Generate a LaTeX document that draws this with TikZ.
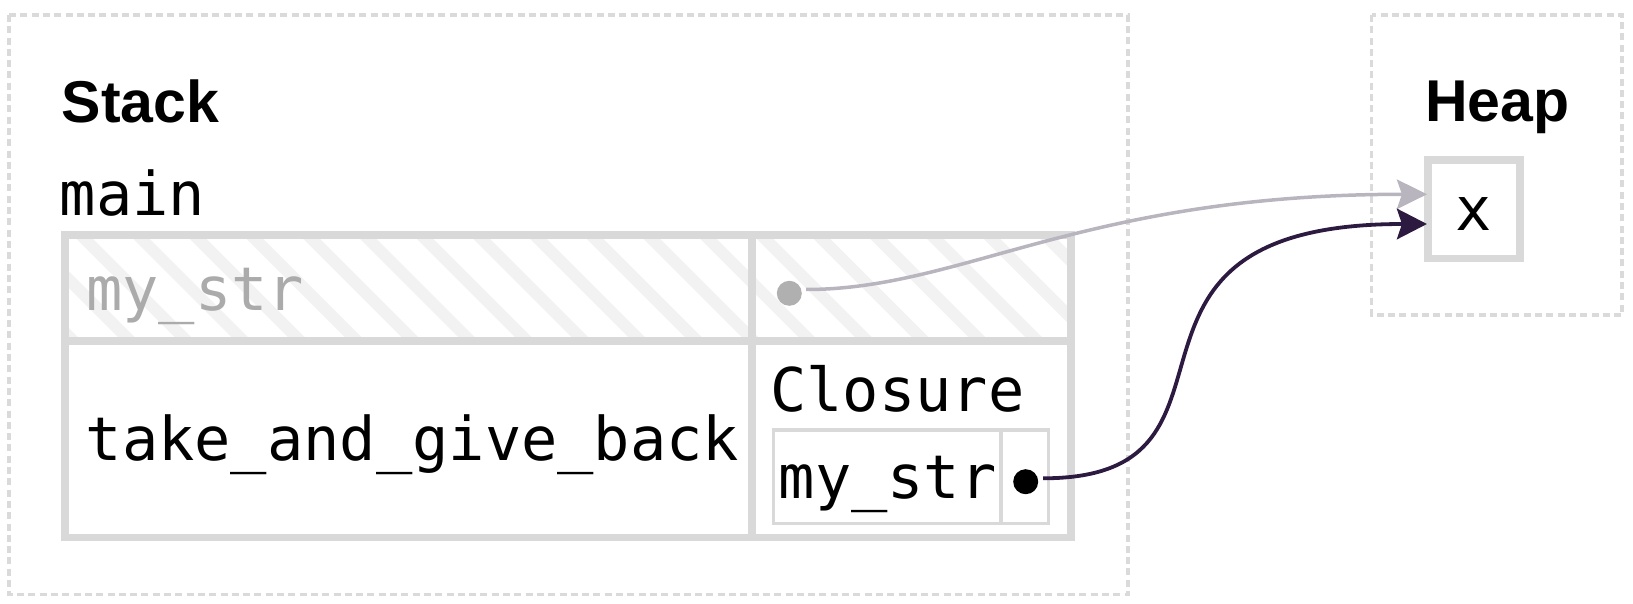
\documentclass[tikz,border=0pt]{standalone}
\usepackage{fontspec}
\setmainfont{Liberation Sans}
\setmonofont{DejaVu Sans Mono}
\usetikzlibrary{arrows.meta}
\definecolor{cellline}{HTML}{D9D9D9}
\definecolor{dashline}{HTML}{DADADA}
\definecolor{hatchgray}{HTML}{F2F2F2}
\definecolor{fadedtext}{HTML}{ABABAB}
\definecolor{fadeddot}{HTML}{B0B0B0}
\definecolor{fadedarrow}{HTML}{B8B5BF}
\definecolor{darkarrow}{HTML}{2C1A40}
\begin{document}
\begin{tikzpicture}[x=1pt,y=-1pt,
  region/.style={draw=dashline, line width=3.3pt, dash pattern=on 7pt off 4.3pt},
  cellborder/.style={draw=cellline, line width=7.5pt},
  innerborder/.style={draw=cellline, line width=3.5pt},
  hatchline/.style={draw=hatchgray, line width=11.8pt},
  codetext/.style={inner sep=0pt, anchor=base west, font=\fontsize{60.3}{72}\selectfont\ttfamily},
  titletext/.style={inner sep=0pt, font=\fontsize{59}{70}\selectfont\bfseries},
  ptrdot/.style={circle, inner sep=0pt, minimum size=25pt},
  fadedptr/.style={draw=fadedarrow, line width=3.5pt, -{Stealth[length=30pt,width=29.5pt,inset=5pt]}},
  liveptr/.style={draw=darkarrow, line width=3.8pt, -{Stealth[length=30pt,width=30.5pt,inset=5pt]}}
]
\useasboundingbox (0,0) rectangle (1633,604);

% regions
\draw[region] (9,15) rectangle (1128,594.5);
\draw[region] (1371.7,15) rectangle (1622,315);

% titles
\node[titletext, anchor=base west] (stacktitle) at (61.5,123) {Stack};
\node[titletext, anchor=base] (heaptitle) at (1497.5,122) {Heap};
\node[codetext] (mainlabel) at (59.5,215.5) {main};

% hatch of the dead row
\begin{scope}
  \clip (65,235) rectangle (1071,341);
  \foreach \k in {-6,...,14}
    \draw[hatchline] ({302.7+56.7*\k},230) -- ++(120,120);
\end{scope}

% frame table
\draw[cellborder] (65,235) rectangle (1071,537.5);
\draw[cellborder] (65,341) -- (1071,341);
\draw[cellborder] (752,235) -- (752,537.5);

\node[codetext, text=fadedtext] (deadvar) at (86,310) {my\_str};
\node[codetext] (fnvar) at (85.5,460) {take\_and\_give\_back};
\node[codetext] (closurelabel) at (770,411.7) {Closure};

% closure inner table
\draw[innerborder] (773.3,430) rectangle (1048.3,523.3);
\draw[innerborder] (1001,430) -- (1001,523.3);
\node[codetext] (capvar) at (778.5,498.3) {my\_str};

% pointer dots
\node[ptrdot, fill=fadeddot] (gdot) at (789.3,293.3) {};
\node[ptrdot, fill=black] (bdot) at (1025.7,481.7) {};

% heap cell
\node[cellborder, minimum width=92pt, minimum height=98.3pt, inner sep=0pt] (xbox) at (1474,209.15) {};
\node[codetext, anchor=base] (xlabel) at (1474,231) {x};

% connectors
\coordinate (gstart) at ([xshift=4pt,yshift=3.8pt]gdot.east);
\coordinate (gend) at ([xshift=2.7pt,yshift=14.85pt]xbox.west);
\coordinate (bstart) at ([xshift=4.8pt,yshift=3.4pt]bdot.east);
\coordinate (bend) at ([xshift=2.7pt,yshift=-14.85pt]xbox.west);
\draw[fadedptr] (gstart) .. controls +(157,0) and +(-345,0) .. (gend);
\draw[liveptr] (bstart) .. controls +(232,0) and +(-356,0) .. (bend);
\end{tikzpicture}
\end{document}
